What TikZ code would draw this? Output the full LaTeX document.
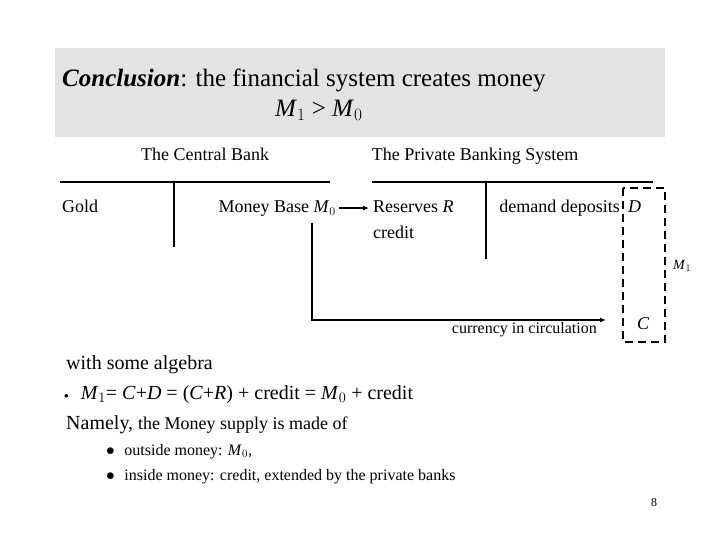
\documentclass[tikz,border=0pt]{standalone}
\usepackage{fontspec}
\setmainfont{Liberation Serif}
\usetikzlibrary{arrows.meta}
\begin{document}
\begin{tikzpicture}[x=1pt,y=-1pt,
  hdr/.style={inner sep=0pt,font=\fontsize{18}{21}\selectfont},
  lbl/.style={inner sep=0pt,font=\fontsize{19.5}{23}\selectfont},
  big/.style={inner sep=0pt,font=\fontsize{20}{24}\selectfont},
  sml/.style={inner sep=0pt,font=\fontsize{16}{19}\selectfont},
  acc/.style={line width=2pt},
  arr/.style={line width=1.6pt,-{Latex[length=6pt,width=5pt]}}]
\useasboundingbox (0,0) rectangle (720,540);
\fill[gray!22] (55,48) rectangle (665,137);
\node[anchor=base west,inner sep=0pt,font=\fontsize{25}{29}\selectfont] (t1) at (62,87) {\textit{\textbf{Conclusion}}: the financial system creates money};
\node[anchor=base west,inner sep=0pt,font=\fontsize{25}{29}\selectfont] (t2) at (275,117) {\textit{M}$_1$ > \textit{M}$_0$};
\node[hdr,anchor=base] (cb) at (205,161) {The Central Bank};
\node[hdr,anchor=base] (pb) at (475,161) {The Private Banking System};
\draw[acc] (60,182) coordinate (l1) -- (330,182) coordinate (l2);
\draw[acc] (174,182) coordinate (v1) -- (174,247) coordinate (v2);
\draw[acc] (372,182) coordinate (r1) -- (653,182) coordinate (r2);
\draw[acc] (486,182) coordinate (w1) -- (486,259) coordinate (w2);
\node[hdr,anchor=base west] (gold) at (62,213) {Gold};
\node[hdr,anchor=base east] (mb) at (336,213) {Money Base \textit{M}$_0$};
\node[hdr,anchor=base west] (res) at (373,213) {Reserves \textit{R}};
\node[hdr,anchor=base west] (cr) at (373,238) {credit};
\node[hdr,anchor=base east] (dd) at (620,213) {demand deposits};
\node[hdr,anchor=base west] (D) at (628,213) {\textit{D}};
\node[hdr,anchor=base west] (C) at (637,329) {\textit{C}};
\node[inner sep=0pt,font=\fontsize{14}{17}\selectfont,anchor=base west] (M1) at (673,269) {\textit{M}$_1$};
\node[sml,anchor=base east] (cc) at (597,333) {currency in circulation};
\draw[line width=2pt,dash pattern=on 8pt off 5pt] (623,188) rectangle (665,342);
\draw[arr] (mb.east) ++(3,-1) coordinate (a1) -- ++(30,0) coordinate (a2);
\coordinate (b1) at (312,223);
\coordinate (b2) at (312,320);
\coordinate (b3) at (606,320);
\draw[arr] (b1) -- (b2) -- (b3);
\node[big,anchor=base west] (w) at (66,369) {with some algebra};
\node[big,anchor=base west] (e1) at (64,399) {\raisebox{1pt}{\small$\bullet$}\hspace{0.6em}\textit{M}$_1$= \textit{C}+\textit{D} = (\textit{C}+\textit{R}) + credit = \textit{M}$_0$ + credit};
\node[big,anchor=base west] (n) at (66,429) {Namely, {\fontsize{18}{21}\selectfont the Money supply is made of}};
\node[sml,anchor=base west] (b1t) at (106,455) {$\bullet$\hspace{0.6em}outside money: \textit{M}$_0$,};
\node[sml,anchor=base west] (b2t) at (106,480) {$\bullet$\hspace{0.6em}inside money: credit, extended by the private banks};
\node[inner sep=0pt,font=\fontsize{12}{14}\selectfont] (pg) at (654,503) {8};
\end{tikzpicture}
\end{document}
